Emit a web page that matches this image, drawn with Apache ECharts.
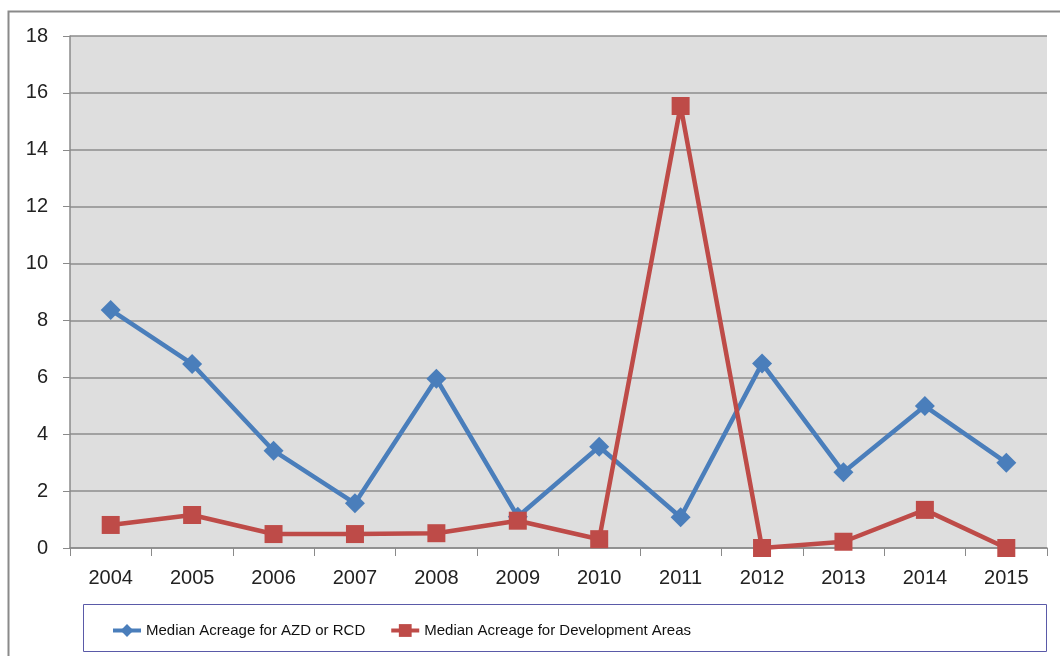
<!DOCTYPE html>
<html>
<head>
<meta charset="utf-8">
<script src="https://cdn.jsdelivr.net/npm/echarts@6/dist/echarts.min.js"></script>
<style>
html,body{margin:0;padding:0;background:#fff;}
#chart{width:1060px;height:656px;}
</style>
</head>
<body>
<div id="chart"></div>
<script>
const years = ['2004','2005','2006','2007','2008','2009','2010','2011','2012','2013','2014','2015'];
const azdRcd = [8.37, 6.47, 3.42, 1.57, 5.95, 1.1, 3.56, 1.08, 6.49, 2.66, 4.99, 3.0];
const devAreas = [0.81, 1.16, 0.49, 0.49, 0.52, 0.96, 0.31, 15.54, 0, 0.22, 1.34, 0];
const seriesNames = ['Median Acreage for AZD or RCD', 'Median Acreage for Development Areas'];

const chart = echarts.init(document.getElementById('chart'));
const fontFam = "'Liberation Sans Narrow', 'Liberation Sans', sans-serif";
chart.setOption({
  animation: false,
  backgroundColor: '#ffffff',
  graphic: [
    { type: 'rect', left: 6, top: 9, shape: { width: 1070, height: 660 },
      style: { fill: 'none', stroke: '#8a8a8a', lineWidth: 2 }, z: -10 },
    { type: 'rect', left: 83, top: 604, shape: { width: 963, height: 47 },
      style: { fill: '#ffffff', stroke: '#5a5aa8', lineWidth: 1 }, z: -5 }
  ],
  grid: { left: 70, top: 36, right: 13, bottom: 108, show: true, backgroundColor: '#dedede', borderWidth: 0 },
  legend: {
    left: 106, top: 618, itemGap: 24, itemWidth: 28, itemHeight: 16,
    lineStyle: { width: 4 },
    textStyle: { fontFamily: fontFam, fontSize: 15, color: '#111' },
    data: seriesNames
  },
  xAxis: {
    type: 'category', data: years, boundaryGap: true,
    axisLine: { lineStyle: { color: '#8a8a8a', width: 1.5 } },
    axisTick: { show: true, length: 8, lineStyle: { color: '#8a8a8a' } },
    axisLabel: { fontFamily: "'Liberation Sans', sans-serif", fontSize: 20, color: '#222', margin: 20 }
  },
  yAxis: {
    type: 'value', min: 0, max: 18, interval: 2,
    axisLine: { show: true, lineStyle: { color: '#8a8a8a', width: 1.5 } },
    axisTick: { show: true, length: 7, lineStyle: { color: '#8a8a8a' } },
    splitLine: { lineStyle: { color: '#8c8c8c', width: 1.5 } },
    axisLabel: { fontFamily: "'Liberation Sans', sans-serif", fontSize: 20, color: '#222', margin: 22 }
  },
  series: [
    { name: seriesNames[0], type: 'line', data: azdRcd, symbol: 'diamond', symbolSize: 20,
      color: '#4a7ebb', lineStyle: { width: 4.5, color: '#4a7ebb' }, itemStyle: { color: '#4a7ebb' }, z: 3 },
    { name: seriesNames[1], type: 'line', data: devAreas, symbol: 'rect', symbolSize: 18,
      color: '#be4b48', lineStyle: { width: 4.5, color: '#be4b48' }, itemStyle: { color: '#be4b48' }, z: 4 }
  ]
});
</script>
</body>
</html>
